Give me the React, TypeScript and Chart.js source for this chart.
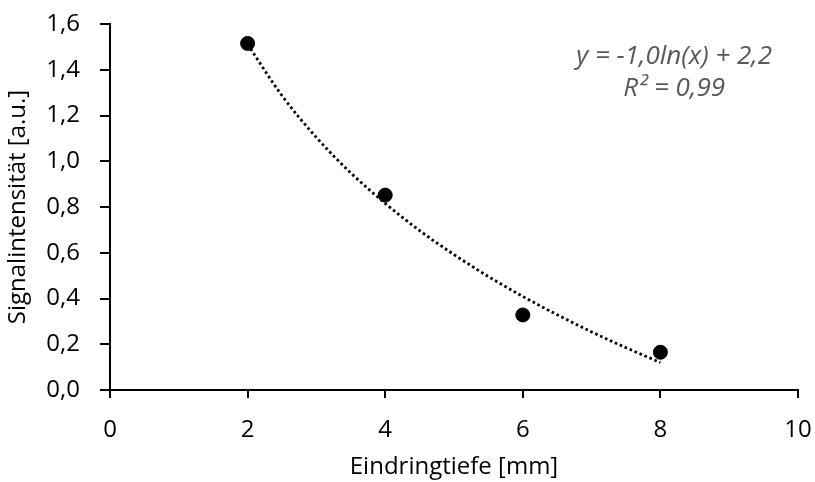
import React, { useEffect, useRef } from "react";
import { Chart, registerables } from "chart.js";

Chart.register(...registerables);

const depthMm = [2, 4, 6, 8];
const signal = [1.515, 0.852, 0.328, 0.165];

// logarithmic trendline
const trendX = [2, 2.5, 3, 3.5, 4, 4.5, 5, 5.5, 6, 6.5, 7, 7.5, 8];
const trendY = [1.511, 1.287, 1.104, 0.949, 0.816, 0.697, 0.592, 0.496, 0.409, 0.329, 0.254, 0.185, 0.12];

const equationLines = ["y = -1,0ln(x) + 2,2", "R² = 0,99"];
const xTitle = "Eindringtiefe [mm]";
const yTitle = "Signalintensität [a.u.]";

const FONT = "'Open Sans', 'Noto Sans', sans-serif";

export default function App() {
  const ref = useRef<HTMLCanvasElement | null>(null);

  useEffect(() => {
    if (!ref.current) return;
    const equationPlugin = {
      id: "equation",
      afterDraw(chart: any) {
        const ctx = chart.ctx;
        const xs = chart.scales.x;
        const ys = chart.scales.y;
        ctx.save();
        ctx.fillStyle = "#595959";
        ctx.font = `italic 26px ${FONT}`;
        ctx.textAlign = "center";
        ctx.textBaseline = "middle";
        const cx = xs.getPixelForValue(8.2);
        ctx.fillText(equationLines[0], cx, ys.getPixelForValue(1.458));
        ctx.fillText(equationLines[1], cx, ys.getPixelForValue(1.318));
        ctx.restore();
      },
    };

    const chart = new Chart(ref.current, {
      type: "scatter",
      data: {
        datasets: [
          {
            type: "line",
            data: trendX.map((x, i) => ({ x, y: trendY[i] })),
            borderColor: "#000",
            borderWidth: 2.8,
            borderDash: [2.6, 2.8],
            pointRadius: 0,
            tension: 0.4,
            cubicInterpolationMode: "monotone",
            fill: false,
            order: 2,
          } as any,
          {
            data: depthMm.map((x, i) => ({ x, y: signal[i] })),
            backgroundColor: "#000",
            borderColor: "#000",
            pointRadius: 7,
            order: 1,
          },
        ],
      },
      options: {
        animation: false,
        responsive: false,
        maintainAspectRatio: false,
        layout: { padding: { left: 0, right: 17, top: 24, bottom: 0 } },
        plugins: { legend: { display: false }, tooltip: { enabled: false } },
        scales: {
          x: {
            type: "linear",
            min: 0,
            max: 10,
            afterFit: (s: any) => {
              s.height = 92;
              s.paddingLeft = 0;
              s.paddingRight = 0;
            },
            ticks: {
              stepSize: 2,
              color: "#000",
              padding: 18,
              font: { family: FONT, size: 24 },
            },
            grid: {
              display: true,
              drawOnChartArea: false,
              drawTicks: true,
              tickLength: 8,
              color: "#000",
              lineWidth: 2,
            },
            border: { display: true, color: "#000", width: 2 },
            title: {
              display: true,
              text: xTitle,
              color: "#000",
              font: { family: FONT, size: 24 },
              padding: { top: 0, bottom: 0 },
            },
          },
          y: {
            type: "linear",
            min: 0,
            max: 1.6,
            afterFit: (s: any) => {
              s.width = 110;
              s.paddingTop = 0;
              s.paddingBottom = 0;
            },
            ticks: {
              stepSize: 0.2,
              color: "#000",
              padding: 20,
              font: { family: FONT, size: 24 },
              callback: (v: any) => Number(v).toFixed(1).replace(".", ","),
            },
            grid: {
              display: true,
              drawOnChartArea: false,
              drawTicks: true,
              tickLength: 10,
              color: "#000",
              lineWidth: 2,
            },
            border: { display: true, color: "#000", width: 2 },
            title: {
              display: true,
              text: yTitle,
              color: "#000",
              font: { family: FONT, size: 24 },
              padding: { top: 4, bottom: 0 },
            },
          },
        },
      },
      plugins: [equationPlugin],
    });
    return () => chart.destroy();
  }, []);

  return (
    <div style={{ position: "fixed", left: 0, top: 0, width: 815, height: 482, background: "#fff" }}>
      <canvas ref={ref} width={815} height={482} style={{ width: 815, height: 482 }} />
    </div>
  );
}
